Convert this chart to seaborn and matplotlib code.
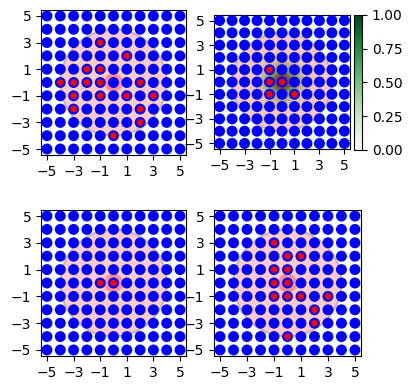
import numpy as np
import matplotlib
matplotlib.use("Agg")
import matplotlib.pyplot as plt
import seaborn as sns
from matplotlib.patches import Circle

# 11 x 11 lattice of points
grid = list(range(-5, 6))
tick_vals = [-5, -3, -1, 1, 3, 5]
cbar_ticks = [0.0, 0.25, 0.5, 0.75, 1.0]

# red points per panel (top-left, top-right, bottom-left, bottom-right)
red_tl_x = [-1, 1, -2, -1, -4, -3, -2, -1, 2, -3, -1, 1, 3, -3, 2, 2, 0]
red_tl_y = [3, 2, 1, 1, 0, 0, 0, 0, 0, -1, -1, -1, -1, -2, -2, -3, -4]
red_tr_x = [-1, -1, 0, -1, 1]
red_tr_y = [1, 0, 0, -1, -1]
red_bl_x = [-1, 0]
red_bl_y = [0, 0]
red_br_x = [-1, 0, 1, -1, 0, -1, 0, -1, 0, 1, 3, 2, 2, 0]
red_br_y = [3, 2, 2, 1, 1, 0, 0, -1, -1, -1, -1, -2, -3, -4]

# green intensity around the centre of the top-right panel (rows y=2..-2, cols x=-2..2)
blob = [
    [0.02, 0.08, 0.15, 0.08, 0.02],
    [0.08, 0.35, 0.60, 0.35, 0.08],
    [0.15, 0.60, 1.00, 0.60, 0.15],
    [0.08, 0.35, 0.60, 0.35, 0.08],
    [0.02, 0.08, 0.15, 0.08, 0.02],
]


def draw_panel(ax, red_x, red_y):
    gx, gy = np.meshgrid(grid, grid)
    ax.add_patch(Circle((0, 0), 4, fc="red", ec="black", alpha=0.2, lw=1.5, zorder=1))
    ax.add_patch(Circle((0, 0), 0.7, fc="red", ec="none", alpha=0.3, zorder=1))
    sns.scatterplot(x=gx.ravel(), y=gy.ravel(), color="blue", s=62,
                    edgecolor="none", ax=ax, zorder=3)
    sns.scatterplot(x=red_x, y=red_y, color="red", s=22,
                    edgecolor="none", ax=ax, zorder=4)
    ax.set_xlim(-5.45, 5.45)
    ax.set_ylim(-5.45, 5.45)
    ax.set_xticks(tick_vals)
    ax.set_yticks(tick_vals)


W, H = 411, 391
fig = plt.figure(figsize=(W / 100, H / 100), dpi=100)

ax_tl = fig.add_axes([41 / W, 1 - 155 / H, 145 / W, 145 / H])
ax_tr = fig.add_axes([214 / W, 1 - 149 / H, 136 / W, 134 / H])
cax = fig.add_axes([354 / W, 1 - 150 / H, 8 / W, 135 / H])
ax_bl = fig.add_axes([41 / W, 1 - 356 / H, 145 / W, 146 / H])
ax_br = fig.add_axes([214 / W, 1 - 356 / H, 147 / W, 146 / H])

field = np.zeros((11, 11))
field[3:8, 3:8] = blob
im = ax_tr.imshow(field, cmap="Greens", vmin=0, vmax=1, extent=(-5.5, 5.5, -5.5, 5.5),
                  interpolation="bilinear", zorder=0)

draw_panel(ax_tl, red_tl_x, red_tl_y)
draw_panel(ax_tr, red_tr_x, red_tr_y)
draw_panel(ax_bl, red_bl_x, red_bl_y)
draw_panel(ax_br, red_br_x, red_br_y)
ax_tr.set_aspect("auto")

cb = fig.colorbar(im, cax=cax)
cb.set_ticks(cbar_ticks)
cb.set_ticklabels([f"{t:.2f}" for t in cbar_ticks])

fig.savefig("out.png", dpi=100)
